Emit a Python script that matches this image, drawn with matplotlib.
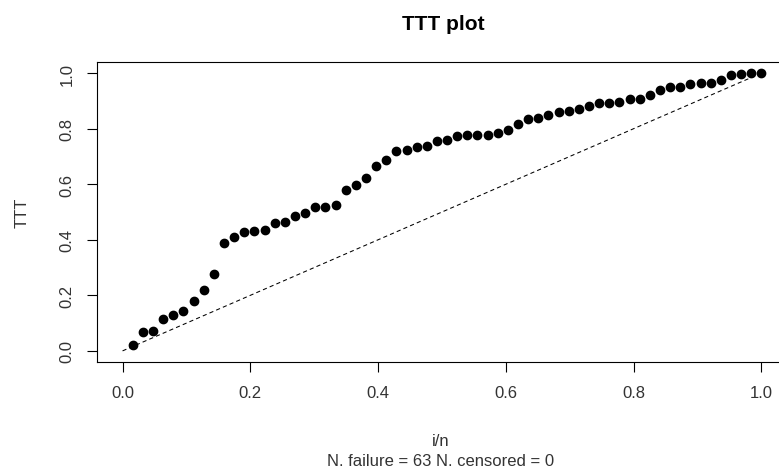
import numpy as np
import matplotlib
matplotlib.use("Agg")
import matplotlib.pyplot as plt

plt.rcParams['font.family'] = ['Liberation Sans', 'DejaVu Sans']

# scaled total time on test, one value per failure (i = 1..63)
ttt = [0.022, 0.067, 0.071, 0.115, 0.129, 0.144, 0.178, 0.220, 0.277, 0.389,
       0.411, 0.428, 0.431, 0.436, 0.461, 0.465, 0.485, 0.498, 0.518, 0.519,
       0.524, 0.580, 0.597, 0.623, 0.664, 0.689, 0.721, 0.722, 0.735, 0.738,
       0.756, 0.760, 0.773, 0.776, 0.777, 0.778, 0.784, 0.797, 0.817, 0.834,
       0.839, 0.850, 0.860, 0.865, 0.872, 0.880, 0.893, 0.894, 0.897, 0.906,
       0.908, 0.921, 0.938, 0.949, 0.950, 0.960, 0.963, 0.964, 0.976, 0.992,
       0.996, 0.999, 1.000]
n_fail = 63
n_cens = 0
ticks = [0.0, 0.2, 0.4, 0.6, 0.8, 1.0]
tick_labels = ["0.0", "0.2", "0.4", "0.6", "0.8", "1.0"]

i_n = np.arange(1, len(ttt) + 1) / len(ttt)

W, H = 779, 477
fig = plt.figure(figsize=(W / 100, H / 100), dpi=100)
# axes box in pixels: left 97, right 787 (cut off), top 63, bottom 363
ax = fig.add_axes([97 / W, 1 - 363 / H, 690 / W, 300 / H])

ax.plot([0, 1], [0, 1], color='black', linestyle=(0, (4, 3)), linewidth=0.75)
ax.plot(i_n, ttt, 'o', color='black', markersize=6)

ax.set_xlim(-0.04, 1.04)
ax.set_ylim(-0.04, 1.04)
ax.set_xticks(ticks)
ax.set_xticklabels(tick_labels)
ax.set_yticks(ticks)
ax.set_yticklabels(tick_labels, rotation=90, va='center')
ax.tick_params(direction='out', length=7.2, width=0.8, labelsize=12,
               colors='black', labelcolor='#333333', pad=9)
for s in ax.spines.values():
    s.set_linewidth(0.8)

fig.text(443 / W, 1 - 24 / H, "TTT plot", ha='center', va='center',
         fontsize=15, fontweight='bold')
fig.text(441 / W, 1 - 442 / H, "i/n", ha='center', va='center',
         fontsize=12, color='#333333')
fig.text(441 / W, 1 - 462 / H,
         "N. failure = %d N. censored = %d" % (n_fail, n_cens),
         ha='center', va='center', fontsize=12, color='#333333')
fig.text(22 / W, 1 - 213 / H, "TTT", ha='center', va='center',
         rotation=90, fontsize=12, color='#333333')

fig.savefig("out.png", dpi=100)
